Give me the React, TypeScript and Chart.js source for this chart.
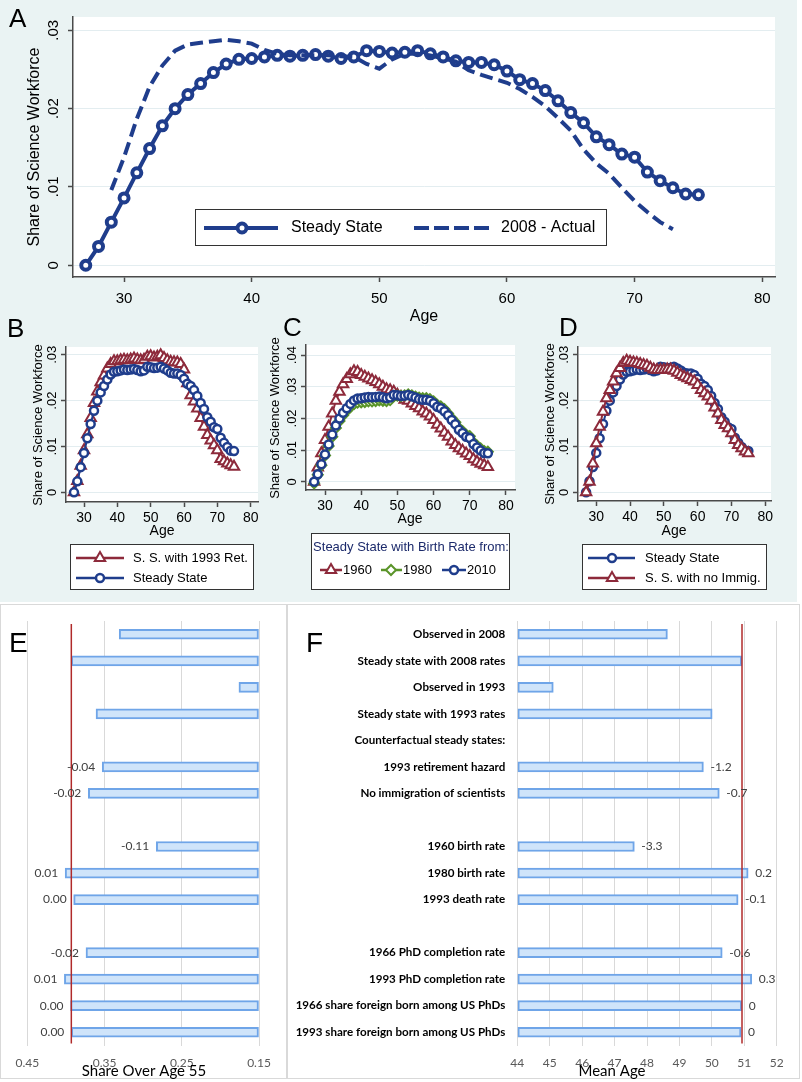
import React, { useEffect, useRef } from "react";
import { Chart, registerables } from "chart.js";
import { drawPoint } from "chart.js/helpers";

Chart.register(...registerables);

// ---------------- data ----------------
const ages = [27, 28, 29, 30, 31, 32, 33, 34, 35, 36, 37, 38, 39, 40, 41, 42, 43, 44, 45, 46, 47, 48, 49, 50, 51, 52, 53, 54, 55, 56, 57, 58, 59, 60, 61, 62, 63, 64, 65, 66, 67, 68, 69, 70, 71, 72, 73, 74, 75];
const steadyState = [0, 0.0024, 0.0055, 0.0086, 0.0118, 0.0149, 0.0178, 0.02, 0.0218, 0.0232, 0.0246, 0.0257, 0.0263, 0.0264, 0.0266, 0.0268, 0.0267, 0.0268, 0.0269, 0.0267, 0.0264, 0.0266, 0.0274, 0.0273, 0.0271, 0.0272, 0.0274, 0.027, 0.0266, 0.0261, 0.0259, 0.0259, 0.0256, 0.0248, 0.0237, 0.0232, 0.0223, 0.021, 0.0195, 0.0182, 0.0164, 0.0154, 0.0142, 0.0138, 0.0119, 0.0108, 0.0099, 0.0091, 0.009];
const actualAges = [29, 30, 31, 32, 33, 34, 35, 36, 37, 38, 39, 40, 41, 42, 43, 44, 45, 46, 47, 48, 49, 50, 51, 52, 53, 54, 55, 56, 57, 58, 59, 60, 61, 62, 63, 64, 65, 66, 67, 68, 69, 70, 71, 72, 73];
const actual2008 = [0.0096, 0.0138, 0.0187, 0.0228, 0.0255, 0.0274, 0.0282, 0.0284, 0.0286, 0.0288, 0.0286, 0.0283, 0.0275, 0.027, 0.0268, 0.0268, 0.0268, 0.0268, 0.0267, 0.0266, 0.0257, 0.0251, 0.0263, 0.027, 0.027, 0.0268, 0.0264, 0.026, 0.0249, 0.0243, 0.0238, 0.0233, 0.0225, 0.0215, 0.0203, 0.0188, 0.0172, 0.0148, 0.013, 0.0117, 0.0099, 0.0082, 0.0068, 0.0055, 0.0046];
const retirement1993 = [0, 0.0025, 0.0058, 0.0092, 0.0127, 0.0162, 0.0195, 0.022, 0.024, 0.0255, 0.027, 0.028, 0.0286, 0.0286, 0.0288, 0.0289, 0.0288, 0.029, 0.0292, 0.029, 0.0288, 0.0289, 0.0296, 0.0297, 0.0294, 0.0296, 0.0299, 0.0293, 0.0288, 0.0285, 0.0284, 0.0283, 0.028, 0.0268, 0.0238, 0.0212, 0.0198, 0.0183, 0.0162, 0.0143, 0.0125, 0.0113, 0.0103, 0.0092, 0.0073, 0.0068, 0.0063, 0.0059, 0.0056];
const birthRate1960 = [0, 0.0045, 0.009, 0.0132, 0.0174, 0.0216, 0.0256, 0.0284, 0.0308, 0.0325, 0.034, 0.0349, 0.0347, 0.0337, 0.0332, 0.0326, 0.0321, 0.0315, 0.0308, 0.03, 0.0292, 0.0289, 0.0284, 0.0275, 0.0268, 0.0259, 0.0256, 0.0247, 0.0239, 0.0232, 0.0222, 0.0216, 0.0206, 0.0195, 0.018, 0.0168, 0.0155, 0.0142, 0.0127, 0.0116, 0.0106, 0.0098, 0.0089, 0.0081, 0.0071, 0.0063, 0.0057, 0.0052, 0.0047];
const birthRate1980 = [-0.0005, 0.0022, 0.0052, 0.0083, 0.0113, 0.0142, 0.017, 0.0192, 0.021, 0.0224, 0.0236, 0.0245, 0.025, 0.0251, 0.0252, 0.0254, 0.0254, 0.0255, 0.0257, 0.0256, 0.0255, 0.0258, 0.0271, 0.0272, 0.0271, 0.0273, 0.0276, 0.0273, 0.0269, 0.0266, 0.0264, 0.0264, 0.0261, 0.0254, 0.0243, 0.0238, 0.0229, 0.0216, 0.0201, 0.0188, 0.017, 0.016, 0.0148, 0.0144, 0.0125, 0.0114, 0.0105, 0.0097, 0.0095];
const noImmigration = [0, 0.0023, 0.0063, 0.0107, 0.0143, 0.0176, 0.0205, 0.0223, 0.0242, 0.026, 0.0271, 0.0282, 0.0287, 0.0285, 0.0283, 0.0282, 0.028, 0.0278, 0.0276, 0.0272, 0.0268, 0.0267, 0.0267, 0.0267, 0.0268, 0.0268, 0.0265, 0.0261, 0.0256, 0.0252, 0.0249, 0.0245, 0.0242, 0.0234, 0.0223, 0.0216, 0.0209, 0.02, 0.0185, 0.0172, 0.0158, 0.0147, 0.014, 0.0129, 0.0114, 0.0103, 0.0096, 0.0089, 0.0085];

const ageTicks = [30, 40, 50, 60, 70, 80];
const shareTicks3 = [0, 0.01, 0.02, 0.03];
const shareTickLabels3 = ["0", ".01", ".02", ".03"];
const shareTicks4 = [0, 0.01, 0.02, 0.03, 0.04];
const shareTickLabels4 = ["0", ".01", ".02", ".03", ".04"];

const rowLabels = [
  "Observed in 2008",
  "Steady state with 2008 rates",
  "Observed in 1993",
  "Steady state with 1993 rates",
  "Counterfactual steady states:",
  "1993 retirement hazard",
  "No immigration of scientists",
  "",
  "1960 birth rate",
  "1980 birth rate",
  "1993 death rate",
  " ",
  "1966 PhD completion rate",
  "1993 PhD completion rate",
  "1966 share foreign born among US PhDs",
  "1993 share foreign born among US PhDs",
];
const shareOver55 = [0.331, 0.393, 0.176, 0.361, null, 0.353, 0.371, null, 0.283, 0.401, 0.39, null, 0.374, 0.402, 0.394, 0.393];
const shareDiffLabels = [null, null, null, null, null, "-0.04", "-0.02", null, "-0.11", "0.01", "0.00", null, "-0.02", "0.01", "0.00", "0.00"];
const meanAge = [48.63, 50.92, 45.11, 50.01, null, 49.74, 50.23, null, 47.61, 51.12, 50.81, null, 50.32, 51.23, 50.92, 50.9];
const meanAgeDiffLabels = [null, null, null, null, null, "-1.2", "-0.7", null, "-3.3", "0.2", "-0.1", null, "-0.6", "0.3", "0", "0"];
const shareOverTicks = [0.15, 0.25, 0.35, 0.45];
const meanAgeTicks = [44, 45, 46, 47, 48, 49, 50, 51, 52];
const steadyShareOver55 = 0.393;
const steadyMeanAge = 50.93;

// ---------------- styles ----------------
const W = 802;
const H = 1082;
const SF = '"Liberation Sans", Arial, Helvetica, sans-serif';
const XF = 'Lato, "Liberation Sans", sans-serif';
const NAVY = "#1f3d8c";
const MAROON = "#8d2a3b";
const GREEN = "#5a9429";
const AXIS = "#4a4a4a";
const GRID = "#e3edf0";
const MINT = "#eaf3f3";
const BAR_FILL = "#cfe4fa";
const BAR_EDGE = "#6fa5e8";
const REDLINE = "#b02a2a";

const pts = (xs: number[], ys: number[]) => xs.map((x, i) => ({ x, y: ys[i] }));

function series(label: string, xs: number[], ys: number[], color: string, style: any, radius: number, bw: number, lw: number, dash?: number[]) {
  return {
    label,
    data: pts(xs, ys),
    borderColor: color,
    borderWidth: lw,
    borderDash: dash || [],
    borderCapStyle: "butt",
    pointStyle: style || "circle",
    pointRadius: style ? radius : 0,
    pointBorderWidth: bw,
    pointBackgroundColor: "#fff",
    pointBorderColor: color,
    tension: 0,
    fill: false,
  };
}

const textPlugin = (items: any[]) => ({
  id: "texts",
  afterDraw(chart: any) {
    const ctx = chart.ctx;
    for (const t of items) {
      ctx.save();
      ctx.font = t.font;
      ctx.fillStyle = t.color || "#000";
      ctx.textAlign = t.align || "left";
      ctx.textBaseline = t.baseline || "alphabetic";
      ctx.translate(t.x, t.y);
      if (t.rotate) ctx.rotate(t.rotate);
      ctx.fillText(t.text, 0, 0);
      ctx.restore();
    }
  },
});

const whitePlot = {
  id: "whitePlot",
  beforeDraw(chart: any) {
    const a = chart.chartArea;
    const ctx = chart.ctx;
    ctx.save();
    ctx.fillStyle = "#fff";
    ctx.fillRect(a.left, a.top, a.right - a.left, a.bottom - a.top);
    ctx.restore();
  },
};

const legendPlugin = (spec: any) => ({
  id: "stataLegend",
  afterDraw(chart: any) {
    const ctx = chart.ctx;
    const [x0, y0, x1, y1] = spec.box;
    ctx.save();
    ctx.fillStyle = "#fff";
    ctx.fillRect(x0, y0, x1 - x0, y1 - y0);
    ctx.strokeStyle = "#333";
    ctx.lineWidth = 1;
    ctx.strokeRect(x0 + 0.5, y0 + 0.5, x1 - x0 - 1, y1 - y0 - 1);
    if (spec.title) {
      ctx.font = spec.font;
      ctx.fillStyle = spec.title.color;
      ctx.textAlign = "center";
      ctx.textBaseline = "middle";
      ctx.fillText(spec.title.text, spec.title.x, spec.title.y);
    }
    for (const it of spec.items) {
      ctx.strokeStyle = it.color;
      ctx.lineWidth = it.lineWidth;
      ctx.lineCap = "butt";
      ctx.setLineDash(it.dash || []);
      ctx.beginPath();
      ctx.moveTo(it.x0, it.y);
      ctx.lineTo(it.x1, it.y);
      ctx.stroke();
      ctx.setLineDash([]);
      if (it.style) {
        ctx.fillStyle = "#fff";
        ctx.strokeStyle = it.color;
        ctx.lineWidth = it.bw;
        drawPoint(ctx, { pointStyle: it.style, radius: it.radius, rotation: 0, borderWidth: it.bw } as any, it.mx, it.y);
      }
      ctx.fillStyle = "#000";
      ctx.font = spec.font;
      ctx.textAlign = "left";
      ctx.textBaseline = "middle";
      ctx.fillText(it.label, it.tx, it.y);
    }
    ctx.restore();
  },
});

function lineConfig(o: any) {
  const AXW = 40;
  const AXH = 40;
  const a = o.area;
  return {
    type: "line",
    data: { datasets: o.datasets },
    options: {
      responsive: false,
      animation: false,
      devicePixelRatio: 1,
      events: [],
      layout: { padding: { left: a.left - AXW, top: a.top, right: W - a.right, bottom: H - a.bottom - AXH } },
      plugins: { legend: { display: false }, tooltip: { enabled: false } },
      scales: {
        x: {
          type: "linear",
          min: o.xMin,
          max: o.xMax,
          afterBuildTicks: (s: any) => {
            s.ticks = ageTicks.map((v) => ({ value: v }));
          },
          afterFit: (s: any) => {
            s.height = AXH;
          },
          ticks: { font: { family: SF, size: o.xFont }, color: "#000", padding: o.xPad, maxRotation: 0, autoSkip: false, callback: (v: any) => String(v) },
          grid: { drawOnChartArea: false, drawTicks: true, tickLength: 5, tickColor: AXIS, tickWidth: 1.5 },
          border: { display: true, color: AXIS, width: 1.5 },
        },
        y: {
          type: "linear",
          min: o.yMin,
          max: o.yMax,
          afterBuildTicks: (s: any) => {
            s.ticks = o.yTicks.map((v: number) => ({ value: v }));
          },
          afterFit: (s: any) => {
            s.width = AXW;
          },
          ticks: {
            font: { family: SF, size: o.yFont },
            color: "#000",
            padding: o.yPad,
            minRotation: 90,
            maxRotation: 90,
            crossAlign: "center",
            autoSkip: false,
            callback: (v: any) => {
              const i = o.yTicks.findIndex((t: number) => Math.abs(t - v) < 1e-9);
              return i >= 0 ? o.yTickLabels[i] : "";
            },
          },
          grid: { color: GRID, lineWidth: 1, drawTicks: true, tickLength: 5, tickColor: AXIS, tickWidth: 1.5 },
          border: { display: true, color: AXIS, width: 1.5 },
        },
      },
    },
    plugins: [whitePlot, textPlugin(o.texts), legendPlugin(o.legend)],
  };
}

function barConfig(o: any) {
  const AXW = o.showCats ? 230 : 0;
  const AXH = 30;
  const a = o.area;
  const labelsPlugin = {
    id: "barLabels",
    afterDatasetsDraw(chart: any) {
      const ctx = chart.ctx;
      const meta = chart.getDatasetMeta(0);
      const x = chart.scales.x.getPixelForValue(o.refValue);
      ctx.save();
      ctx.strokeStyle = REDLINE;
      ctx.lineWidth = 1.5;
      ctx.beginPath();
      ctx.moveTo(x, chart.chartArea.top + 3);
      ctx.lineTo(x, chart.chartArea.bottom - 2);
      ctx.stroke();
      ctx.font = `12px ${XF}`;
      ctx.fillStyle = "#404040";
      ctx.textBaseline = "middle";
      meta.data.forEach((el: any, i: number) => {
        const lbl = o.diffLabels[i];
        if (!lbl || o.values[i] == null) return;
        if (o.reverse) {
          ctx.textAlign = "right";
          ctx.fillText(lbl, el.x - 7, el.y);
        } else {
          ctx.textAlign = "left";
          ctx.fillText(lbl, el.x + 7, el.y);
        }
      });
      ctx.restore();
    },
  };
  return {
    type: "bar",
    data: {
      labels: rowLabels,
      datasets: [
        {
          data: o.values,
          base: o.min,
          backgroundColor: BAR_FILL,
          borderColor: BAR_EDGE,
          borderWidth: 2,
          borderSkipped: false,
          barThickness: 10,
        },
      ],
    },
    options: {
      indexAxis: "y",
      responsive: false,
      animation: false,
      devicePixelRatio: 1,
      events: [],
      layout: { padding: { left: a.left - AXW, top: a.top, right: W - a.right, bottom: H - a.bottom - AXH } },
      plugins: { legend: { display: false }, tooltip: { enabled: false } },
      scales: {
        x: {
          type: "linear",
          min: o.min,
          max: o.max,
          reverse: o.reverse,
          afterBuildTicks: (s: any) => {
            s.ticks = o.ticks.map((v: number) => ({ value: v }));
          },
          afterFit: (s: any) => {
            s.height = AXH;
          },
          ticks: { font: { family: XF, size: 12 }, color: "#595959", padding: 10, maxRotation: 0, autoSkip: false, callback: o.fmt },
          grid: { color: "#d9d9d9", lineWidth: 1, drawTicks: false },
          border: { display: false },
        },
        y: {
          type: "category",
          display: o.showCats,
          afterFit: (s: any) => {
            s.width = AXW;
          },
          ticks: { font: { family: XF, size: 11.6, weight: "bold" }, color: "#000", padding: 12, autoSkip: false },
          grid: { display: false, drawTicks: false },
          border: { display: false },
        },
      },
    },
    plugins: [labelsPlugin, textPlugin(o.texts)],
  };
}

const ROT = -Math.PI / 2;

const configA = () =>
  lineConfig({
    area: { left: 73, top: 17, right: 775, bottom: 277 },
    xMin: 26,
    xMax: 81,
    yMin: -0.0015,
    yMax: 0.0317,
    yTicks: shareTicks3,
    yTickLabels: shareTickLabels3,
    xFont: 15,
    yFont: 15,
    xPad: 8,
    yPad: 4,
    datasets: [
      series("2008 - Actual", actualAges, actual2008, NAVY, null, 0, 0, 4, [13, 6]),
      series("Steady State", ages, steadyState, NAVY, "circle", 4.5, 4, 4),
    ],
    texts: [
      { text: "A", x: 9, y: 27, font: `26px ${SF}` },
      { text: "Share of Science Workforce", x: 35, y: 147, font: `16px ${SF}`, align: "center", baseline: "middle", rotate: ROT },
      { text: "Age", x: 424, y: 321, font: `16px ${SF}`, align: "center" },
    ],
    legend: {
      box: [195, 209, 607, 246],
      font: `16px ${SF}`,
      items: [
        { label: "Steady State", color: NAVY, lineWidth: 4, x0: 204, x1: 278, style: "circle", radius: 4.5, bw: 4, mx: 242, tx: 291, y: 228 },
        { label: "2008 - Actual", color: NAVY, lineWidth: 4, dash: [15, 5], x0: 414, x1: 489, tx: 501, y: 228 },
      ],
    },
  });

const configB = () =>
  lineConfig({
    area: { left: 66, top: 347, right: 258, bottom: 502 },
    xMin: 24.6,
    xMax: 82.2,
    yMin: -0.0021,
    yMax: 0.0317,
    yTicks: shareTicks3,
    yTickLabels: shareTickLabels3,
    xFont: 14,
    yFont: 13,
    xPad: 3,
    yPad: 0,
    datasets: [
      series("Steady State", ages, steadyState, NAVY, "circle", 4, 2.5, 2),
      series("S. S. with 1993 Ret.", ages, retirement1993, MAROON, "triangle", 6, 2, 2),
    ],
    texts: [
      { text: "B", x: 7, y: 337, font: `26px ${SF}` },
      { text: "Share of Science Workforce", x: 38, y: 425, font: `13px ${SF}`, align: "center", baseline: "middle", rotate: ROT },
      { text: "Age", x: 162, y: 535, font: `14px ${SF}`, align: "center" },
    ],
    legend: {
      box: [70, 544, 254, 590],
      font: `13px ${SF}`,
      items: [
        { label: "S. S. with 1993 Ret.", color: MAROON, lineWidth: 2.5, x0: 76, x1: 124, style: "triangle", radius: 6, bw: 2, mx: 100, tx: 133, y: 558 },
        { label: "Steady State", color: NAVY, lineWidth: 2.5, x0: 76, x1: 124, style: "circle", radius: 4, bw: 2.5, mx: 100, tx: 133, y: 578 },
      ],
    },
  });

const configC = () =>
  lineConfig({
    area: { left: 306, top: 345, right: 515, bottom: 490 },
    xMin: 24.75,
    xMax: 82.5,
    yMin: -0.0026,
    yMax: 0.0432,
    yTicks: shareTicks4,
    yTickLabels: shareTickLabels4,
    xFont: 14,
    yFont: 13,
    xPad: 3,
    yPad: 0,
    datasets: [
      series("2010", ages, steadyState, NAVY, "circle", 4, 2.5, 2),
      series("1980", ages, birthRate1980, GREEN, "rectRot", 5, 2, 2),
      series("1960", ages, birthRate1960, MAROON, "triangle", 6, 2, 2),
    ],
    texts: [
      { text: "C", x: 283, y: 336, font: `26px ${SF}` },
      { text: "Share of Science Workforce", x: 275, y: 418, font: `13px ${SF}`, align: "center", baseline: "middle", rotate: ROT },
      { text: "Age", x: 410, y: 523, font: `14px ${SF}`, align: "center" },
    ],
    legend: {
      box: [311, 533, 510, 590],
      font: `13px ${SF}`,
      title: { text: "Steady State with Birth Rate from:", x: 411, y: 547, color: "#1c2a6b" },
      items: [
        { label: "1960", color: MAROON, lineWidth: 2.5, x0: 320, x1: 342, style: "triangle", radius: 6, bw: 2, mx: 331, tx: 343, y: 570 },
        { label: "1980", color: GREEN, lineWidth: 2.5, x0: 381, x1: 402, style: "rectRot", radius: 5, bw: 2, mx: 391, tx: 403, y: 570 },
        { label: "2010", color: NAVY, lineWidth: 2.5, x0: 442, x1: 466, style: "circle", radius: 4, bw: 2.5, mx: 454, tx: 467, y: 570 },
      ],
    },
  });

const configD = () =>
  lineConfig({
    area: { left: 578, top: 347, right: 771, bottom: 501 },
    xMin: 24.6,
    xMax: 81.7,
    yMin: -0.0019,
    yMax: 0.0317,
    yTicks: shareTicks3,
    yTickLabels: shareTickLabels3,
    xFont: 14,
    yFont: 13,
    xPad: 3,
    yPad: 0,
    datasets: [
      series("S. S. with no Immig.", ages, noImmigration, MAROON, "triangle", 6, 2, 2),
      series("Steady State", ages, steadyState, NAVY, "circle", 4, 2.5, 2),
    ],
    texts: [
      { text: "D", x: 559, y: 336, font: `26px ${SF}` },
      { text: "Share of Science Workforce", x: 550, y: 424, font: `13px ${SF}`, align: "center", baseline: "middle", rotate: ROT },
      { text: "Age", x: 674, y: 535, font: `14px ${SF}`, align: "center" },
    ],
    legend: {
      box: [582, 544, 767, 590],
      font: `13px ${SF}`,
      items: [
        { label: "Steady State", color: NAVY, lineWidth: 2.5, x0: 588, x1: 635, style: "circle", radius: 4, bw: 2.5, mx: 612, tx: 645, y: 558 },
        { label: "S. S. with no Immig.", color: MAROON, lineWidth: 2.5, x0: 588, x1: 635, style: "triangle", radius: 6, bw: 2, mx: 612, tx: 645, y: 578 },
      ],
    },
  });

const configE = () =>
  barConfig({
    area: { left: 27.3, top: 621, right: 259, bottom: 1045.5 },
    showCats: false,
    values: shareOver55,
    diffLabels: shareDiffLabels,
    min: 0.15,
    max: 0.45,
    reverse: true,
    ticks: shareOverTicks,
    fmt: (v: any) => Number(v).toFixed(2),
    refValue: steadyShareOver55,
    texts: [
      { text: "E", x: 9, y: 652, font: `28px ${SF}` },
      { text: "Share Over Age 55", x: 144, y: 1076, font: `15px ${XF}`, align: "center" },
    ],
  });

const configF = () =>
  barConfig({
    area: { left: 517.3, top: 621, right: 776.7, bottom: 1045.5 },
    showCats: true,
    values: meanAge,
    diffLabels: meanAgeDiffLabels,
    min: 44,
    max: 52,
    reverse: false,
    ticks: meanAgeTicks,
    fmt: (v: any) => String(v),
    refValue: steadyMeanAge,
    texts: [
      { text: "F", x: 306, y: 652, font: `28px ${SF}` },
      { text: "Mean Age", x: 612, y: 1076, font: `15px ${XF}`, align: "center" },
    ],
  });

function ChartLayer({ make }: { make: () => any }) {
  const ref = useRef<HTMLCanvasElement>(null);
  useEffect(() => {
    const chart = new Chart(ref.current as HTMLCanvasElement, make());
    return () => chart.destroy();
  }, []);
  return <canvas ref={ref} width={W} height={H} style={{ position: "absolute", left: 0, top: 0, width: W, height: H }} />;
}

export default function App() {
  return (
    <div style={{ position: "absolute", left: 0, top: 0, width: W, height: H, overflow: "hidden", background: "#fff" }}>
      <div style={{ position: "absolute", left: 0, top: 0, width: 797, height: 602, background: MINT }} />
      <div style={{ position: "absolute", left: 0, top: 604, width: 285, height: 473, border: "1px solid #d9d9d9" }} />
      <div style={{ position: "absolute", left: 287, top: 604, width: 511, height: 473, border: "1px solid #d9d9d9" }} />
      <ChartLayer make={configA} />
      <ChartLayer make={configB} />
      <ChartLayer make={configC} />
      <ChartLayer make={configD} />
      <ChartLayer make={configE} />
      <ChartLayer make={configF} />
    </div>
  );
}
